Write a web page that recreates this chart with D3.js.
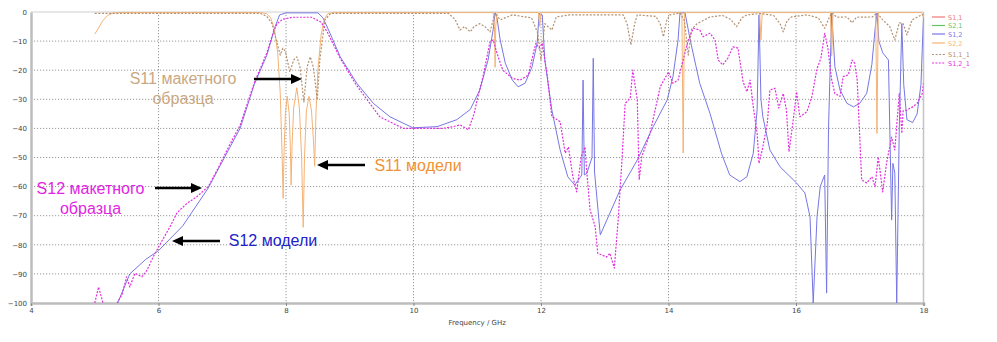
<!DOCTYPE html>
<html><head><meta charset="utf-8">
<script src="https://cdn.jsdelivr.net/npm/d3@7/dist/d3.min.js"></script>
<style>body{margin:0;background:#fff;}svg{display:block;}</style>
</head><body>
<svg id="c" width="997" height="342"></svg>
<script>
// ---- data ----
const xTicks = [4, 6, 8, 10, 12, 14, 16, 18];
const yTicks = [0, -10, -20, -30, -40, -50, -60, -70, -80, -90, -100];
const legendNames = ["S1,1", "S2,1", "S1,2", "S2,2", "S1,1_1", "S1,2_1"];

// S2,2 (model S11) [GHz, dB]
const s22 = [[5.0,-7.6],[5.06,-5.5],[5.12,-3.2],[5.2,-1.2],[5.28,-0.4],[5.4,-0.2],[7.6,-0.2],[7.7,-0.6],[7.76,-2],[7.82,-6],[7.87,-14],[7.91,-28],[7.94,-50],[7.955,-64],[7.97,-48],[7.99,-35],[8.02,-29],[8.05,-35],[8.07,-48],[8.08,-59.5],[8.095,-46],[8.12,-33],[8.17,-26],[8.21,-33],[8.245,-50],[8.27,-74],[8.29,-50],[8.32,-34],[8.36,-29],[8.4,-34],[8.43,-44],[8.45,-53],[8.47,-35],[8.5,-20],[8.55,-8],[8.6,-2.5],[8.66,-0.5],[8.75,-0.2],[11.25,-0.2],[11.27,-5],[11.28,-19],[11.29,-5],[11.31,-0.2],[11.96,-0.2],[11.98,-5],[12.0,-0.2],[14.21,-0.2],[14.23,-48.5],[14.25,-0.2],[15.43,-0.2],[15.45,-9.6],[15.47,-0.2],[16.54,-0.2],[16.56,-15],[16.58,-0.2],[17.25,-0.2],[17.27,-41.7],[17.29,-0.2],[17.97,-0.2],[18.0,-2]];

// S1,2 (model S12)
const s12 = [[5.36,-100],[5.55,-90],[5.8,-85],[6.0,-82],[6.38,-73.5],[6.78,-60.5],[7.12,-46.5],[7.28,-40],[7.5,-25],[7.7,-14.8],[7.83,-5],[7.9,-1],[8.0,-0.3],[8.5,-0.3],[8.58,-2],[8.69,-7.3],[8.85,-15.4],[9.11,-24.5],[9.37,-31.4],[9.63,-36],[9.99,-39.8],[10.37,-39.4],[10.68,-37],[10.89,-33.5],[11.04,-26.8],[11.17,-16.5],[11.25,-6],[11.28,-0.3],[11.31,-2],[11.36,-9.6],[11.44,-17.6],[11.55,-23.4],[11.64,-25.7],[11.75,-24.5],[11.86,-18.8],[11.94,-10.7],[11.97,-0.5],[12.02,-1],[12.06,-16.5],[12.17,-33.7],[12.30,-47.4],[12.42,-56.6],[12.53,-59.5],[12.64,-56],[12.66,-23.4],[12.68,-56],[12.72,-55.4],[12.80,-50],[12.82,-15.9],[12.84,-55],[12.93,-76.6],[13.24,-61.2],[13.51,-50.9],[13.76,-39.4],[13.98,-30.2],[14.07,-22.2],[14.15,-9.6],[14.18,-0.3],[14.26,-0.3],[14.34,-9.6],[14.49,-24.5],[14.65,-34.8],[14.83,-48.5],[14.96,-56],[15.12,-58.3],[15.23,-56.6],[15.33,-48.5],[15.39,-33.7],[15.42,-1],[15.45,-30],[15.48,-36],[15.59,-47.4],[15.75,-53.2],[16.01,-58.8],[16.14,-62.2],[16.22,-70.4],[16.27,-100],[16.33,-70.4],[16.38,-60],[16.45,-56],[16.48,-96.6],[16.51,-40],[16.56,-0.3],[16.61,-18.8],[16.69,-26.8],[16.80,-31.4],[16.9,-32.6],[17.0,-31.4],[17.11,-27.9],[17.19,-18],[17.24,-6],[17.27,-0.3],[17.3,-10],[17.36,-14],[17.45,-16.5],[17.5,-71.5],[17.52,-52],[17.55,-55.4],[17.58,-100],[17.62,-40],[17.66,-4],[17.69,-25],[17.74,-37],[17.83,-38],[17.9,-35],[17.96,-25],[17.98,-13],[18.0,-2]];

// S1,1_1 (measured S11)
const s11m = [[5.0,-0.5],[7.6,-0.5],[7.7,-1.5],[7.78,-4],[7.86,-10.7],[7.91,-14.8],[7.95,-12.4],[7.99,-13.5],[8.06,-20.6],[8.12,-16.5],[8.17,-15.4],[8.22,-19],[8.28,-30.9],[8.33,-19],[8.38,-15.4],[8.43,-19],[8.49,-30.2],[8.53,-16.5],[8.61,-2.7],[8.7,-0.5],[10.55,-0.5],[10.65,-2.5],[10.73,-6.2],[10.8,-5],[10.89,-6.8],[10.95,-5],[11.04,-4],[11.12,-5],[11.2,-6.8],[11.28,-0.3],[11.36,-2.7],[11.55,-1],[11.85,-2],[11.95,-7.3],[12.0,-16.5],[12.06,-4],[12.17,-6.2],[12.24,-1.7],[12.45,-1],[13.29,-1],[13.35,-4],[13.41,-11.3],[13.47,-4],[13.51,-1],[13.8,-1.5],[13.87,-4],[13.92,-8.5],[13.97,-3],[14.02,-1],[14.18,-0.3],[14.25,-3],[14.31,-14.8],[14.36,-6],[14.45,-4],[14.65,-1.7],[14.85,-1.2],[14.97,-2.5],[15.07,-5],[15.15,-2],[15.23,-1],[15.44,-0.5],[15.65,-1.2],[15.75,-4],[15.8,-6.8],[15.86,-3],[15.93,-1.7],[16.17,-1],[16.35,-2],[16.45,-5.6],[16.52,-2],[16.56,-0.3],[16.64,-1.8],[16.8,-1.7],[16.88,-3.7],[16.95,-1.8],[17.2,-1.7],[17.27,-0.3],[17.36,-2.7],[17.47,-5],[17.55,-9.6],[17.62,-3.7],[17.68,-4],[17.74,-7.9],[17.82,-2.7],[17.95,-1.2],[18.0,-0.8]];

// S1,2_1 (measured S12)
const s12m = [[5.0,-100],[5.06,-94.5],[5.13,-100],[5.2,-100.6],[5.3,-100.6],[5.35,-100],[5.43,-97],[5.5,-91],[5.55,-94.5],[5.63,-89.8],[5.74,-91],[5.82,-88.7],[5.92,-84],[6.02,-80],[6.18,-73.8],[6.29,-69],[6.45,-65.7],[6.6,-63.5],[6.78,-60],[6.95,-53],[7.12,-45.5],[7.28,-39],[7.5,-24.5],[7.7,-14],[7.8,-7],[7.86,-4],[7.95,-2.5],[8.1,-1.8],[8.4,-1.8],[8.55,-3.5],[8.65,-7],[8.85,-15.9],[9.1,-25],[9.47,-36],[9.84,-40],[10.46,-40],[10.6,-39.5],[10.73,-38.8],[10.86,-40.5],[10.95,-35],[11.0,-30],[11.09,-22.2],[11.2,-10.2],[11.25,-9.6],[11.31,-14.2],[11.40,-20],[11.55,-22.8],[11.67,-23.4],[11.80,-21.7],[11.88,-14.2],[11.92,-10.7],[11.97,-12.4],[12.02,-10.7],[12.1,-22.2],[12.17,-36],[12.22,-36.5],[12.30,-37.7],[12.38,-48.5],[12.43,-46.4],[12.5,-56.6],[12.56,-61.8],[12.63,-49.8],[12.69,-46.4],[12.72,-55.4],[12.77,-68],[12.85,-73.8],[12.89,-82.9],[13.03,-84.2],[13.08,-82.9],[13.15,-88],[13.21,-71.5],[13.27,-50.9],[13.32,-31.4],[13.4,-29.6],[13.44,-20],[13.51,-30.2],[13.54,-57.7],[13.58,-49.8],[13.71,-41.7],[13.87,-25.7],[14.0,-20.6],[14.07,-24.5],[14.15,-23.4],[14.23,-16.5],[14.31,-9.6],[14.39,-5.6],[14.49,-6.2],[14.54,-8.5],[14.65,-7.3],[14.73,-9.6],[14.78,-16.5],[14.85,-18.2],[14.93,-15.9],[15.01,-12],[15.09,-12.4],[15.17,-24],[15.23,-27.4],[15.28,-23.4],[15.33,-32.6],[15.39,-41.7],[15.42,-52],[15.47,-47.4],[15.55,-38.3],[15.59,-26.8],[15.67,-26.2],[15.73,-33],[15.8,-28],[15.85,-33.7],[15.89,-48],[15.95,-38.3],[16.01,-27.4],[16.06,-36],[16.17,-34.3],[16.25,-29],[16.33,-19.4],[16.39,-16],[16.45,-7.3],[16.5,-12.4],[16.56,-23.4],[16.61,-28],[16.69,-29],[16.74,-22.2],[16.82,-21.6],[16.88,-16.5],[16.92,-17.6],[16.96,-23.4],[17.03,-57.7],[17.11,-58.8],[17.19,-56.6],[17.24,-60],[17.29,-49.8],[17.36,-61.8],[17.42,-52],[17.5,-43],[17.55,-47.4],[17.62,-28],[17.66,-41.7],[17.68,-34],[17.74,-33.7],[17.83,-32.6],[17.9,-31.4],[17.98,-28],[18.0,-24.5]];

// annotation texts
const notes = [
  {lines:["S11 макетного","образца"], color:"#c9a882", x:183, y:[83.5,103.5]},
  {lines:["S11 модели"], color:"#ef9235", x:418, y:[171]},
  {lines:["S12 макетного","образца"], color:"#e21fe2", x:90.5, y:[193.5,213.5]},
  {lines:["S12 модели"], color:"#2222cc", x:273, y:[246]}
];
const arrows = [[254,79,302,79],[365,165,317,165],[155,188,202,188],[220,241,172,241]];

// ---- drawing ----
const svg = d3.select("#c");
const L = 31, R = 923.5, T = 12, B = 303;
const x = d3.scaleLinear().domain([4, 18]).range([L, R]);
const y = d3.scaleLinear().domain([0, -100]).range([T, B]);

svg.append("defs").append("clipPath").attr("id","clip")
  .append("rect").attr("x", L).attr("y", T - 1).attr("width", R - L).attr("height", B - T + 1);

// grid
const g = svg.append("g");
g.selectAll(".hg").data(yTicks.filter(d => d !== 0 && d !== -100)).enter().append("line")
  .attr("x1", L).attr("x2", R).attr("y1", d => y(d)).attr("y2", d => y(d))
  .attr("stroke", "#9a9a9a").attr("stroke-width", 1).attr("stroke-dasharray", "1.2,1.8");
g.selectAll(".vg").data(xTicks.filter(d => d !== 4 && d !== 18)).enter().append("line")
  .attr("x1", d => x(d)).attr("x2", d => x(d)).attr("y1", T).attr("y2", B + 3)
  .attr("stroke", "#9a9a9a").attr("stroke-width", 1).attr("stroke-dasharray", "1.2,1.8");

// frame
svg.append("line").attr("x1", L).attr("x2", R).attr("y1", T).attr("y2", T).attr("stroke", "#cfcfcf").attr("stroke-width", 1);
svg.append("line").attr("x1", R).attr("x2", R).attr("y1", T).attr("y2", B).attr("stroke", "#c4c4c4").attr("stroke-width", 1.5);

// axes
const xAxis = d3.axisBottom(x).tickValues(xTicks).tickSize(3).tickFormat(d3.format("d"));
const ya = d3.axisLeft(y).tickValues(yTicks).tickSize(0).tickPadding(4).tickFormat(d3.format("d"));
const gx = svg.append("g").attr("transform", `translate(0,${B})`).call(xAxis);
const gy = svg.append("g").attr("transform", `translate(${L},0)`).call(ya);
[gx, gy].forEach(a => {
  a.select(".domain").attr("stroke", "#bdbdbd").attr("stroke-width", 2.5);
  a.selectAll(".tick line").attr("stroke", "#888");
  a.selectAll("text").attr("font-family", "DejaVu Sans").attr("font-size", 7).attr("fill", "#444");
});
gx.selectAll("text").attr("dy", "0.75em").attr("y", 5);

svg.append("text").attr("x", (L + R) / 2).attr("y", 325).attr("text-anchor", "middle")
  .attr("font-family", "DejaVu Sans").attr("font-size", 7).attr("fill", "#444").text("Frequency / GHz");

// series (S1,1 and S2,1 coincide with S2,2 / S1,2 and are hidden beneath them)
const line = d3.line().x(d => x(d[0])).y(d => y(d[1]));
const series = [
  {data:null, color:"#ee7777", dash:null, w:1},
  {data:null, color:"#66c266", dash:null, w:1},
  {data:s12, color:"#7676e4", dash:null, w:1},
  {data:s22, color:"#f5b274", dash:null, w:1},
  {data:s11m, color:"#b39170", dash:"2,1.6", w:1.2},
  {data:s12m, color:"#e030e0", dash:"2,1.4", w:1.2}
];
const pg = svg.append("g").attr("clip-path", "url(#clip)");
series.filter(s => s.data).forEach(s => {
  pg.append("path").datum(s.data).attr("d", line).attr("fill", "none")
    .attr("stroke", s.color).attr("stroke-width", s.w)
    .attr("stroke-dasharray", s.dash).attr("stroke-linejoin", "round");
});

// legend
const legY = [17, 25.5, 34, 43, 54.5, 63];
const lg = svg.append("g");
legendNames.forEach((n, i) => {
  const s = series[i];
  lg.append("line").attr("x1", 932).attr("x2", 945).attr("y1", legY[i]).attr("y2", legY[i])
    .attr("stroke", s.color).attr("stroke-width", 1.2).attr("stroke-dasharray", s.dash);
  lg.append("text").attr("x", 948).attr("y", legY[i] + 2.5).attr("font-family", "DejaVu Sans")
    .attr("font-size", 6.5).attr("fill", s.color).text(n);
});

// annotations
notes.forEach(nt => {
  nt.lines.forEach((t, i) => {
    svg.append("text").attr("x", nt.x).attr("y", nt.y[i]).attr("text-anchor", "middle")
      .attr("font-family", "Liberation Sans, Arial, sans-serif").attr("font-size", 16)
      .attr("fill", nt.color).text(t);
  });
});
arrows.forEach(a => {
  const [x1, y1, x2, y2] = a;
  const dir = Math.sign(x2 - x1);
  const hx = x2 - dir * 11;
  svg.append("line").attr("x1", x1).attr("y1", y1).attr("x2", hx).attr("y2", y2)
    .attr("stroke", "#000").attr("stroke-width", 2.5);
  svg.append("path").attr("d", `M${x2},${y2} L${hx},${y2 - 5} L${hx},${y2 + 5} Z`).attr("fill", "#000");
});
</script>
</body></html>
